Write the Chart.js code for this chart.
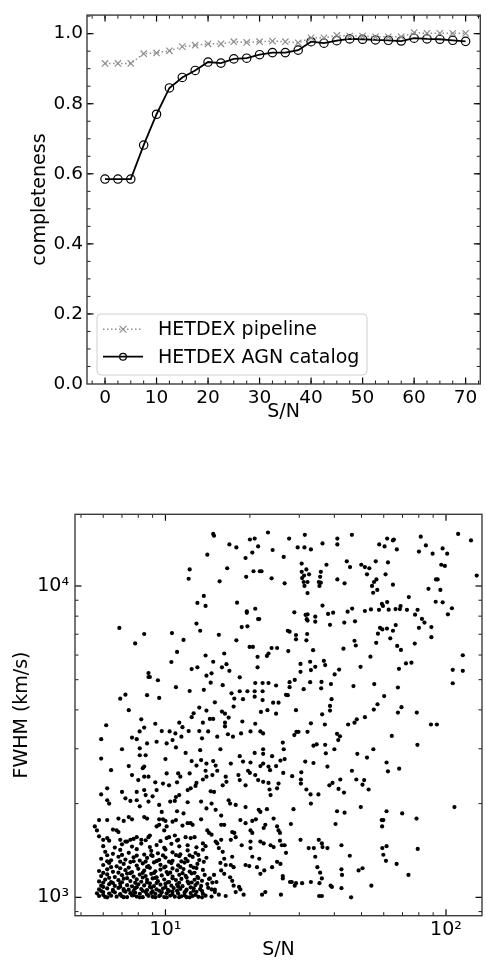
<!DOCTYPE html>
<html>
<head>
<meta charset="utf-8">
<script src="https://cdn.jsdelivr.net/npm/chart.js@4.4.1/dist/chart.umd.min.js"></script>
<style>
  html, body { margin: 0; padding: 0; background: #fff; }
  canvas { display: block; }
</style>
</head>
<body>
<canvas id="completeness" width="486" height="440"></canvas>
<canvas id="fwhm" width="486" height="524"></canvas>
<script>
// completeness vs S/N (top panel)
const snBins = [0, 2.5, 5, 7.5, 10, 12.5, 15, 17.5, 20, 22.5, 25, 27.5, 30, 32.5, 35,
  37.5, 40, 42.5, 45, 47.5, 50, 52.5, 55, 57.5, 60, 62.5, 65, 67.5, 70];
const pipelineCompleteness = [0.915, 0.915, 0.915, 0.943, 0.945, 0.951, 0.963, 0.967, 0.971, 0.971,
  0.977, 0.975, 0.977, 0.979, 0.977, 0.974, 0.988, 0.988, 0.995, 0.993, 0.993, 0.991, 0.991, 0.991,
  1.003, 1.001, 1.001, 1.001, 1.001];
const agnCompleteness = [0.585, 0.585, 0.585, 0.682, 0.770, 0.845, 0.875, 0.895, 0.919, 0.916,
  0.928, 0.930, 0.940, 0.946, 0.946, 0.953, 0.977, 0.973, 0.980, 0.985, 0.984, 0.982, 0.981, 0.979,
  0.987, 0.985, 0.984, 0.981, 0.978];
const topXTicks = [0, 10, 20, 30, 40, 50, 60, 70];
const topYTicks = [0, 0.2, 0.4, 0.6, 0.8, 1.0];

// FWHM vs S/N scatter (bottom panel), [S/N, FWHM km/s]
const agnUpperLeft = [[14.8,14700],[14.9,14500],[16.9,13600],[17.9,13300],[20.0,14100],[20.8,14200],[23.2,14850],[21.4,13400],[20.4,12800],[24.1,13050],[14.1,12600],[19.3,12300],[12.2,11300],[16.6,11400],[20.6,11150],[21.7,11150],[22.0,11150],[19.4,10700],[23.9,10580],[12.1,10550],[15.6,10350],[13.7,9290],[13.0,8820],[13.9,8630],[18.0,8840],[20.9,8450],[19.5,8290],[19.5,8200],[21.4,7830],[21.6,7830],[12.9,7570],[13.3,7180],[18.7,7380],[19.6,7420],[6.85,7330],[8.4,7010],[10.55,7060],[11.6,6710],[15.5,6970],[7.8,6540],[17.9,6690],[19.95,6370],[20.5,6370],[23.9,6320],[25.0,6320],[11.0,6140],[13.9,5980],[16.2,6070],[10.5,5700],[14.8,5710],[21.3,5920],[23.3,6070],[23.0,5960],[15.9,5480],[16.5,5610],[12.4,5410],[13.0,5480],[16.9,5340],[21.3,5480],[8.7,5250],[8.7,5100],[8.8,5100],[14.0,5150],[14.6,5240],[9.4,4980],[14.5,4890],[18.4,5090],[10.9,4730],[16.0,4800],[12.2,4600],[13.7,4640],[17.2,4520],[18.4,4590],[19.6,4590],[20.8,4590],[22.2,4590],[20.9,4880],[22.2,4880],[23.3,4880],[24.8,4790],[6.9,4345],[7.2,4475],[8.6,4460],[9.5,4370],[17.6,4350],[18.9,4330],[20.8,4410],[22.2,4300],[15.0,4230],[24.2,4220],[25.3,4220],[7.4,3990],[13.2,4070],[14.0,3980],[15.9,3950],[16.3,3890],[17.5,4100],[21.9,3940],[23.1,3990],[24.8,3890],[12.6,3900],[12.4,3790],[8.2,3730],[9.2,3610],[6.15,3570],[8.4,3510],[11.2,3640],[11.5,3520],[13.6,3640],[14.4,3740],[14.8,3740],[16.3,3640],[16.8,3780],[16.3,3540],[18.8,3670],[20.9,3610]];
const agnUpperRight = [[27.6,14200],[31.4,14600],[29.6,13300],[31.3,13300],[33.0,13100],[36.3,13700],[41.0,14200],[41.0,13600],[46.2,14600],[26.4,12400],[30.6,11800],[37.5,11700],[44.3,12000],[45.5,11500],[49.9,11700],[51.4,11500],[53.3,11400],[56.2,12000],[57.8,13600],[60.4,13400],[61.7,14200],[64.7,14000],[65.2,14100],[62.1,11900],[66.8,13100],[81.3,14400],[84.8,13500],[80.1,12900],[89.6,12700],[97.3,13200],[101,12700],[96.2,11700],[99.1,11600],[110.5,14700],[122.8,14000],[128.7,10800],[26.6,10200],[30.6,11100],[30.7,10600],[31.2,10800],[31.8,11300],[32.5,10900],[31.1,10300],[31.3,10000],[32.1,10300],[32.1,9490],[35.8,11100],[35.6,10700],[35.2,10300],[35.8,10250],[35.4,10000],[41.0,10500],[43.5,10200],[52.3,10900],[54.5,10000],[55.4,10300],[56.5,10500],[56.9,9710],[55.0,9510],[60.9,10900],[64.7,10100],[86.6,9790],[92.1,10500],[93.4,10500],[95.5,9710],[91.9,8900],[97.3,8860],[73.7,9210],[105,8480],[101.6,8110],[28.8,8230],[31.6,8070],[32.1,8110],[31.9,7820],[32.1,7740],[34.2,7970],[34.2,7680],[36.3,8650],[38.0,8130],[39.6,8210],[38.6,7500],[43.4,7630],[44.6,8270],[46.3,8460],[47.4,7700],[51.4,8310],[54.0,8410],[57.7,8380],[59.1,8760],[61.7,8880],[59.6,8630],[62.5,8390],[66.1,8430],[68.9,8620],[68.5,8430],[72.6,8380],[77.6,8090],[79.2,8380],[82.1,7840],[83.8,7630],[80.1,7340],[88.7,7380],[88.7,6850],[27.3,7180],[27.7,7130],[29.2,6960],[29.2,6740],[32.0,7010],[31.8,6690],[47.2,6670],[47.7,6440],[43.1,6290],[53.8,5930],[56.4,6570],[57.2,7030],[58.2,7340],[59.3,7250],[61.6,7300],[64.7,7180],[66.2,7490],[63.3,6790],[67.0,6420],[69.1,6230],[77.4,6530],[114.8,5990],[105.7,5380],[114.8,5340],[105.7,4870],[27.4,6180],[30.3,5620],[30.3,5300],[32.8,5710],[33.0,5370],[33.6,6220],[34.2,5500],[36.7,5750],[37.1,5570],[36.0,4920],[35.9,4690],[38.9,4840],[40.1,5200],[41.6,5390],[49.6,5500],[46.8,4770],[55.5,4840],[60.2,4430],[67.4,4720],[72.0,5640],[75.3,5670],[68.0,5420],[27.7,4910],[27.7,4730],[28.9,4990],[31.1,4660],[32.8,4910],[26.9,4470],[27.3,4460],[29.2,3990],[36.2,3870],[38.6,4120],[39.1,4330],[38.6,3980],[47.2,3640],[48.1,3730],[51.4,3790],[55.3,4010],[57.0,4170],[67.4,3920],[69.4,4080],[78.7,3920],[33.0,3620],[37.0,3590],[44.8,3590],[88.4,3590],[92.8,3590]];
const agnLowerRight = [[28.8,3320],[29.3,3400],[29.8,3400],[32.1,3400],[26.2,3140],[26.4,2990],[25.7,2750],[26.6,2780],[26.3,2510],[28.3,2450],[30.5,2520],[30.4,2390],[30.4,2320],[31.5,2730],[31.8,2220],[32.9,2140],[33.0,2000],[33.7,3070],[34.6,3100],[33.7,2700],[35.1,2140],[37.1,3090],[37.3,2900],[37.8,2630],[38.4,2290],[39.4,2330],[40.0,2990],[40.9,3350],[41.9,3290],[41.3,3200],[41.4,2230],[42.0,2390],[43.3,2170],[40.9,1890],[43.5,1870],[40.4,1720],[42.4,1470],[45.4,1360],[46.2,2550],[47.9,2390],[48.3,2890],[50.4,2300],[51.1,2380],[52.3,2810],[53.0,2220],[49.7,1950],[48.8,1220],[50.4,1240],[45.9,1000],[54.2,1090],[55.1,2990],[61.4,2710],[62.1,2540],[64.1,3300],[68.1,2590],[61.4,1890],[69.8,1860],[59.0,1770],[59.8,1770],[59.2,1690],[59.3,1440],[61.4,1460],[59.8,1370],[61.1,1310],[66.7,1280],[73.5,1180],[78.5,1790],[79.3,1430],[79.1,3090],[107.2,1950],[30.3,1530],[32.4,1440],[33.8,1440],[34.2,1350],[35.2,1530],[36.1,1490],[36.3,1450],[37.8,1440],[28.0,1720],[28.6,1920],[25.6,1610],[25.6,1520],[26.0,1470],[26.6,1470],[26.9,1390],[28.2,1120],[25.7,1280],[26.2,1170],[26.2,1150],[27.8,1120],[28.9,1090],[29.2,1110],[30.7,1110],[33.0,1120],[34.8,1250],[35.6,1200],[36.1,1150],[35.4,1110],[35.3,1010],[36.1,1010],[38.8,1090],[39.2,1080],[42.4,1230],[42.6,1180],[42.4,1070],[25.8,1020]];
const agnLowerLeft = [[8.09,3410],[9.7,3420],[10.35,3410],[10.85,3360],[11.4,3280],[12.1,3420],[13.2,3420],[14.2,3410],[16.7,3340],[18.6,3360],[20.1,3410],[21.8,3410],[22.3,3360],[5.9,3220],[7.6,3260],[7.9,3220],[9.3,3160],[8.6,3120],[10.1,3120],[10.6,3200],[10.9,3030],[13.5,3240],[15.3,3280],[17.4,3280],[7.0,2990],[8.1,3010],[5.9,2790],[8.1,2860],[8.5,2860],[10.0,2780],[11.8,2910],[13.3,2970],[15.7,2990],[18.4,2840],[18.9,2730],[20.8,2910],[22.3,2990],[22.3,2890],[20.1,2710],[24.0,2840],[12.4,2740],[12.9,2650],[13.4,2760],[14.0,2690],[14.8,2740],[15.1,2650],[17.1,2690],[7.4,2640],[8.4,2630],[8.3,2600],[6.4,2560],[10.1,2500],[11.1,2500],[11.3,2440],[12.2,2500],[13.9,2550],[14.0,2440],[13.6,2390],[14.7,2470],[15.3,2550],[16.4,2440],[18.2,2470],[19.7,2550],[20.0,2510],[20.9,2470],[21.8,2640],[22.3,2690],[23.3,2630],[23.6,2560],[24.8,2640],[8.0,2380],[8.4,2440],[8.7,2440],[7.6,2470],[9.2,2340],[9.8,2320],[10.3,2290],[11.0,2340],[12.9,2330],[6.2,2240],[7.0,2180],[7.9,2180],[8.4,2210],[8.5,2130],[9.0,2110],[9.3,2210],[10.9,2100],[11.2,2130],[12.0,2210],[12.3,2240],[12.8,2280],[14.5,2190],[14.9,2180],[16.0,2290],[16.5,2350],[18.4,2380],[19.3,2290],[21.4,2380],[22.3,2350],[23.3,2330],[23.5,2220],[25.0,2240],[25.3,2320],[5.9,2140],[6.2,2050],[6.3,2000],[7.2,2080],[7.5,2040],[8.1,1960],[7.9,2050],[8.7,2030],[9.5,1980],[9.7,1880],[10.4,2030],[10.8,2040],[11.0,1890],[11.6,1860],[12.0,2020],[13.4,2030],[14.0,1930],[14.6,2000],[15.1,1910],[15.8,1830],[16.8,2050],[17.0,2000],[17.8,1980],[18.5,1770],[19.3,1950],[20.4,1760],[21.0,1780],[21.5,1910],[21.8,1880],[23.0,1920],[23.7,2130],
  [5.6,1690],[5.7,1640],[5.8,1770],[6.2,1770],[5.8,1570],[6.0,1530],[6.2,1550],[6.5,1650],[6.7,1640],[6.8,1620],[6.8,1790],[7.1,1760],[7.4,1810],[7.6,1780],[8.4,1810],[8.6,1790],[6.9,1530],[7.2,1510],[7.5,1530],[7.7,1540],[7.9,1560],[8.2,1530],[8.7,1560],[8.8,1580],[9.3,1690],[9.5,1710],[9.5,1780],[9.8,1780],[10.0,1760],[10.1,1690],[9.9,1640],[10.6,1750],[10.9,1770],[11.5,1700],[12.0,1730],[12.3,1730],[12.5,1710],[13.4,1780],[14.1,1640],[14.3,1610],[14.6,1590],[15.8,1710],[16.2,1710],[17.3,1620],[17.6,1610],[19.3,1730],[20.1,1640],[20.4,1610],[22.4,1670],[22.7,1710],[24.3,1790],[25.0,1690],[25.3,1640],[10.1,1550],[10.3,1560],[10.8,1580],[11.1,1530],[11.8,1560],[12.3,1550],[12.7,1560],[13.6,1490],[13.9,1460],[15.1,1510],[15.8,1530],[17.1,1530],[17.8,1560],[18.7,1470],[20.1,1510],[21.8,1510],[22.4,1490],[23.7,1470],[24.3,1450],
  [15.3,1490],[15.5,1440],[16.0,1400],[16.2,1330],[15.7,1290],[16.4,1270],[15.8,1220],[16.2,1190],[15.5,1020],[16.4,1010],[17.1,1270],[17.5,1250],[17.0,1160],[17.3,1130],[17.5,1090],[17.3,1350],[18.3,1080],[18.5,1060],[19.0,1020],[17.8,1040],[19.3,1270],[19.9,1260],[20.4,1350],[20.1,1440],[21.8,1190],[22.5,1220],[22.1,1020],[22.7,1040],[24.0,1250],[25.0,1300],[21.2,1250],[21.6,1330],[14.9,1180],[15.2,1120],[14.6,1060],[15.0,1040],[14.4,1150]];
const agnCore = [[5.8,1010],[6.1,1003],[6.4,1012],[6.7,1005],[7.0,1008],[7.3,1002],[7.6,1014],[7.9,1006],[8.3,1001],[8.7,1011],[9.0,1004],[9.5,1009],[9.9,1002],[10.4,1013],[10.8,1005],[11.4,1008],[11.9,1001],[12.5,1010],[13.1,1004],[13.9,1012],[14.6,1006],
  [5.7,1030],[6.0,1040],[6.3,1028],[6.6,1038],[6.9,1025],[7.2,1043],[7.5,1031],[7.8,1036],[8.1,1027],[8.5,1041],[8.9,1033],[9.2,1026],[9.7,1039],[10.1,1030],[10.6,1044],[11.1,1029],[11.7,1037],[12.3,1032],[12.9,1042],[13.6,1027],
  [5.8,1060],[6.2,1068],[6.5,1056],[6.8,1072],[7.1,1062],[7.4,1058],[7.8,1070],[8.2,1063],[8.6,1055],[8.9,1074],[9.3,1061],[9.8,1067],[10.2,1057],[10.7,1071],[11.3,1064],[11.9,1059],[12.6,1069],[13.3,1062],[14.2,1073],[15.0,1058],
  [5.9,1090],[6.3,1102],[6.6,1088],[6.9,1107],[7.3,1094],[7.6,1085],[8.0,1100],[8.4,1092],[8.8,1109],[9.1,1087],[9.6,1098],[10.0,1105],[10.5,1090],[11.0,1100],[11.5,1086],[12.1,1108],[12.8,1095],[13.4,1088],[14.1,1103],
  [5.8,1125],[6.1,1140],[6.4,1120],[6.8,1135],[7.1,1148],[7.5,1128],[7.9,1142],[8.2,1122],[8.6,1138],[9.0,1150],[9.4,1127],[9.9,1141],[10.3,1120],[10.9,1136],[11.4,1146],[12.0,1124],[12.7,1139],[13.5,1130],[14.3,1145],
  [5.9,1170],[6.2,1185],[6.6,1162],[7.0,1178],[7.3,1192],[7.7,1166],[8.1,1183],[8.5,1170],[8.9,1190],[9.3,1160],[9.7,1176],[10.2,1188],[10.6,1165],[11.2,1181],[11.8,1172],[12.4,1193],[13.0,1163],[13.8,1180],
  [5.8,1215],[6.2,1230],[6.5,1208],[6.9,1240],[7.2,1222],[7.6,1205],[8.0,1235],[8.4,1218],[8.8,1244],[9.2,1212],[9.6,1228],[10.1,1206],[10.6,1238],[11.0,1220],[11.6,1232],[12.2,1210],[12.9,1242],[13.6,1225],
  [6.0,1270],[6.3,1290],[6.7,1258],[7.1,1280],[7.5,1298],[7.9,1265],[8.3,1285],[8.7,1260],[9.1,1295],[9.6,1272],[10.0,1255],[10.5,1288],[11.1,1266],[11.7,1293],[12.3,1262],[13.0,1280],[13.7,1300],
  [5.9,1330],[6.4,1315],[6.8,1350],[7.2,1322],[7.7,1345],[8.1,1312],[8.6,1338],[9.0,1358],[9.5,1320],[10.0,1342],[10.6,1310],[11.2,1355],[11.8,1330],[12.5,1348],[13.2,1318],[14.0,1340],
  [6.1,1400],[6.5,1380],[6.9,1420],[7.4,1390],[7.9,1428],[8.4,1372],[8.9,1410],[9.4,1385],[10.0,1425],[10.6,1395],[11.3,1375],[12.0,1415],[12.8,1388],[13.6,1422],
  [6.0,1460],[6.6,1445],[7.0,1480],[7.6,1455],[8.2,1488],[8.8,1450],[9.3,1472],[9.9,1442],[10.5,1485],[11.2,1458],[12.0,1470],[12.9,1448],
  [6.0,1018],[6.9,1020],[7.7,1016],[8.6,1022],[9.6,1017],[10.6,1021],[11.7,1015],[12.8,1019],
  [6.0,1080],[6.9,1082],[7.9,1078],[8.8,1081],[10.0,1079],[11.1,1082],[12.3,1077],
  [6.3,1155],[7.3,1152],[8.3,1158],[9.2,1154],[10.6,1151],[11.9,1157],[13.1,1153],
  [6.4,1250],[7.4,1246],[8.6,1252],[9.9,1248],[11.3,1251],[12.6,1247],
  [5.9,1048],[6.5,1046],[7.1,1050],[7.7,1047],[8.3,1049],[9.0,1045],[9.5,1050],[10.3,1047],[11.0,1049],[11.8,1046],[12.6,1050],[13.5,1048],
  [6.0,1115],[6.5,1112],[7.0,1118],[7.8,1113],[8.6,1116],[9.3,1112],[10.2,1117],[11.2,1114],[12.4,1116],[13.0,1112],[14.7,1115],
  [6.0,1198],[6.8,1200],[7.5,1196],[8.3,1199],[9.1,1197],[10.4,1200],[11.5,1196],[12.7,1199],
  [6.2,1305],[6.9,1302],[7.7,1306],[8.5,1303],[9.3,1307],[10.3,1302],[11.4,1305],[12.0,1308],
  [6.2,1365],[7.0,1368],[7.9,1362],[8.9,1366],[9.8,1363],[10.9,1367],[12.2,1364],[13.1,1368],
  [6.3,1520],[7.3,1510],[8.5,1525],[9.6,1515],[11.0,1522],
  [6.2,1000],[7.1,1001],[8.1,1000],[9.2,1000],[10.1,1000],[11.2,1001],[12.2,1000],[13.5,1000]];
const fwhmXTicks = [10, 100];
const fwhmYTicks = [1000, 10000];

Chart.defaults.font.family = '"DejaVu Sans", "Liberation Sans", sans-serif';
Chart.defaults.font.size = 19;
Chart.defaults.color = '#000';
Chart.defaults.animation = false;

// matplotlib style frame with inward ticks on all four sides
const insideTicks = {
  id: 'insideTicks',
  afterDraw(chart, args, o) {
    const { ctx, chartArea: a, scales } = chart;
    const seg = (x1, y1, x2, y2) => {
      ctx.beginPath(); ctx.moveTo(x1, y1); ctx.lineTo(x2, y2); ctx.stroke();
    };
    ctx.save();
    ctx.strokeStyle = '#000';
    [[o.xMinor, 3.5, 0.9], [o.xMajor, 6.5, 1.2]].forEach(([vals, len, w]) => {
      ctx.lineWidth = w;
      vals.forEach(v => {
        const p = scales.x.getPixelForValue(v);
        if (p < a.left + 1 || p > a.right - 1) return;
        seg(p, a.bottom, p, a.bottom - len);
        seg(p, a.top, p, a.top + len);
      });
    });
    [[o.yMinor, 3.5, 0.9], [o.yMajor, 6.5, 1.2]].forEach(([vals, len, w]) => {
      ctx.lineWidth = w;
      vals.forEach(v => {
        const p = scales.y.getPixelForValue(v);
        if (p < a.top + 1 || p > a.bottom - 1) return;
        seg(a.left, p, a.left + len, p);
        seg(a.right, p, a.right - len, p);
      });
    });
    ctx.strokeStyle = '#3c3c3c';
    ctx.lineWidth = 1.4;
    ctx.strokeRect(a.left, a.top, a.right - a.left, a.bottom - a.top);
    ctx.restore();
  }
};

// legend box in the lower left corner of the plot area
const boxLegend = {
  id: 'boxLegend',
  afterDatasetsDraw(chart, args, o) {
    if (!o.display) return;
    const { ctx, chartArea: a } = chart;
    const x0 = a.left + o.left;
    const y0 = a.bottom - o.bottom - o.height;
    ctx.save();
    ctx.beginPath();
    ctx.roundRect(x0, y0, o.width, o.height, 4);
    ctx.fillStyle = 'rgba(255,255,255,0.8)';
    ctx.fill();
    ctx.strokeStyle = '#d0d0d0';
    ctx.lineWidth = 1;
    ctx.stroke();
    chart.data.datasets.forEach((ds, i) => {
      const cy = y0 + o.rowTop + i * o.rowGap;
      const lx = x0 + 6, mx = lx + 20;
      ctx.strokeStyle = ds.borderColor;
      ctx.lineWidth = ds.borderWidth;
      ctx.setLineDash(ds.borderDash || []);
      ctx.beginPath(); ctx.moveTo(lx, cy); ctx.lineTo(lx + 40, cy); ctx.stroke();
      ctx.setLineDash([]);
      ctx.lineWidth = ds.pointBorderWidth;
      const r = o.markerRadius;
      ctx.beginPath();
      if (ds.pointStyle === 'crossRot') {
        ctx.moveTo(mx - r, cy - r); ctx.lineTo(mx + r, cy + r);
        ctx.moveTo(mx - r, cy + r); ctx.lineTo(mx + r, cy - r);
      } else {
        ctx.arc(mx, cy, r, 0, Math.PI * 2);
      }
      ctx.stroke();
      ctx.fillStyle = '#000';
      ctx.font = '19px "DejaVu Sans"';
      ctx.textBaseline = 'middle';
      ctx.fillText(ds.label, x0 + 61, cy + 1);
    });
    ctx.restore();
  }
};

const range = (from, to, step) => {
  const out = [];
  for (let v = from; v <= to + 1e-9; v += step) out.push(+v.toFixed(4));
  return out;
};

new Chart(document.getElementById('completeness'), {
  type: 'line',
  data: {
    datasets: [
      {
        label: 'HETDEX pipeline',
        data: snBins.map((x, i) => ({ x, y: pipelineCompleteness[i] })),
        borderColor: '#8f8f8f',
        borderWidth: 1.5,
        borderDash: [1.5, 2.5],
        pointStyle: 'crossRot',
        pointRadius: 4.5,
        pointBorderColor: '#8f8f8f',
        pointBackgroundColor: '#8f8f8f',
        pointBorderWidth: 1.2,
        tension: 0
      },
      {
        label: 'HETDEX AGN catalog',
        data: snBins.map((x, i) => ({ x, y: agnCompleteness[i] })),
        borderColor: '#000',
        borderWidth: 1.8,
        pointStyle: 'circle',
        pointRadius: 4.2,
        pointBorderColor: '#000',
        pointBackgroundColor: 'rgba(0,0,0,0)',
        pointBorderWidth: 1.2,
        tension: 0
      }
    ]
  },
  options: {
    responsive: false,
    layout: { padding: { top: 6, right: 3.5, left: 0, bottom: 0 } },
    plugins: {
      legend: { display: false },
      tooltip: { enabled: false },
      boxLegend: { display: true, left: 10, bottom: 9, width: 270, height: 61, rowTop: 15.3, rowGap: 27.4, markerRadius: 3.4 },
      insideTicks: {
        xMajor: topXTicks, xMinor: range(-2.5, 72.5, 2.5),
        yMajor: topYTicks, yMinor: range(0, 1.05, 0.05)
      }
    },
    scales: {
      x: {
        type: 'linear', min: -3.5, max: 72.85,
        grid: { display: false, drawTicks: false },
        border: { display: false },
        ticks: { padding: 3, font: { size: 18.5 }, callback: v => String(v) },
        afterBuildTicks: s => { s.ticks = topXTicks.map(value => ({ value })); },
        afterFit: s => { s.height = 56; },
        title: { display: true, text: 'S/N', padding: { top: 0, bottom: 17 } }
      },
      y: {
        type: 'linear', min: 0, max: 1.053,
        grid: { display: false, drawTicks: false },
        border: { display: false },
        ticks: { padding: 4, font: { size: 18.5 }, callback: v => v.toFixed(1) },
        afterBuildTicks: s => { s.ticks = topYTicks.map(value => ({ value })); },
        afterFit: s => { s.width = 87; },
        title: { display: true, text: 'completeness', padding: { top: 28.6, bottom: 0 } }
      }
    }
  },
  plugins: [insideTicks, boxLegend]
});

const sup = { 1: '\u00B9', 2: '\u00B2', 3: '\u00B3', 4: '\u2074' };
const powerLabel = v => '10' + sup[Math.round(Math.log10(v))];

new Chart(document.getElementById('fwhm'), {
  type: 'scatter',
  data: {
    datasets: [{
      label: 'AGN',
      data: agnUpperLeft.concat(agnUpperRight, agnLowerRight, agnLowerLeft, agnCore)
        .map(([x, y]) => ({ x, y })),
      pointRadius: 2.1,
      pointBackgroundColor: '#000',
      pointBorderWidth: 0
    }]
  },
  options: {
    responsive: false,
    layout: { padding: { top: 74.3, right: 1.5, left: 0, bottom: 0 } },
    plugins: {
      legend: { display: false },
      tooltip: { enabled: false },
      insideTicks: {
        xMajor: fwhmXTicks, xMinor: [5, 6, 7, 8, 9, 20, 30, 40, 50, 60, 70, 80, 90],
        yMajor: fwhmYTicks, yMinor: [900, 2000, 3000, 4000, 5000, 6000, 7000, 8000, 9000]
      }
    },
    scales: {
      x: {
        type: 'logarithmic', min: 4.76, max: 134.4,
        grid: { display: false, drawTicks: false },
        border: { display: false },
        ticks: { padding: 3, font: { size: 19 }, callback: v => powerLabel(v) },
        afterBuildTicks: s => { s.ticks = fwhmXTicks.map(value => ({ value })); },
        afterFit: s => { s.height = 48.3; },
        title: { display: true, text: 'S/N', padding: { top: 0, bottom: 2.6 } }
      },
      y: {
        type: 'logarithmic', min: 873, max: 16990,
        grid: { display: false, drawTicks: false },
        border: { display: false },
        ticks: { padding: 6, font: { size: 19 }, callback: v => powerLabel(v) },
        afterBuildTicks: s => { s.ticks = fwhmYTicks.map(value => ({ value })); },
        afterFit: s => { s.width = 75; },
        title: { display: true, text: 'FWHM (km/s)', padding: { top: 10.6, bottom: 0 } }
      }
    }
  },
  plugins: [insideTicks]
});
</script>
</body>
</html>
